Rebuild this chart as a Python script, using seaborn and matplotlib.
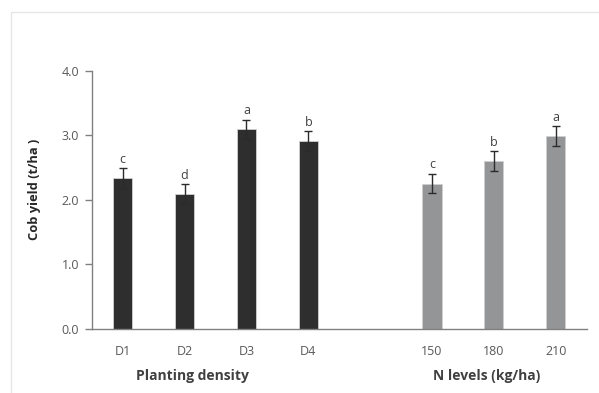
import matplotlib
matplotlib.use("Agg")
import matplotlib.pyplot as plt
import seaborn as sns
import pandas as pd
from matplotlib.lines import Line2D

# Cob yield by planting density and by nitrogen level
density_labels = ["D1", "D2", "D3", "D4"]
density_yield = [2.34, 2.09, 3.09, 2.91]
density_se = [0.15, 0.15, 0.15, 0.15]
density_letters = ["c", "d", "a", "b"]

nitrogen_labels = ["150", "180", "210"]
nitrogen_yield = [2.25, 2.60, 2.99]
nitrogen_se = [0.15, 0.15, 0.15]
nitrogen_letters = ["c", "b", "a"]

y_ticks = [0.0, 1.0, 2.0, 3.0, 4.0]

spacer = " "
order = density_labels + [spacer] + nitrogen_labels

df = pd.DataFrame({
    "treatment": density_labels + nitrogen_labels,
    "yield": density_yield + nitrogen_yield,
    "se": density_se + nitrogen_se,
    "letter": density_letters + nitrogen_letters,
    "factor": ["density"] * len(density_labels) + ["nitrogen"] * len(nitrogen_labels),
})

sns.set_style("white")
plt.rcParams["font.family"] = ["Open Sans", "DejaVu Sans"]

fig = plt.figure(figsize=(5.99, 3.93), dpi=100)
ax = fig.add_axes([0.1531, 0.1628, 0.8264, 0.6573])

sns.barplot(
    data=df, x="treatment", y="yield", hue="factor", order=order,
    palette={"density": "#2e2e2e", "nitrogen": "#939598"},
    dodge=False, width=0.31, errorbar=None, legend=False,
    edgecolor="#d0d0d0", linewidth=0.6, ax=ax,
)

pos = {c: i for i, c in enumerate(order)}
xs = [pos[t] for t in df["treatment"]]
ax.errorbar(xs, df["yield"], yerr=df["se"], fmt="none",
            ecolor="#2b2b2b", elinewidth=1.0, capsize=3.2, capthick=1.0)
for x, y, e, lab in zip(xs, df["yield"], df["se"], df["letter"]):
    ax.text(x, y + e + 0.04, lab, ha="center", va="bottom",
            fontsize=9, color="#404040")

ax.set_xlim(-0.5, 7.5)
ax.set_ylim(0, 4.0)
ax.set_yticks(y_ticks)
ax.set_yticklabels([f"{v:.1f}" for v in y_ticks])
ax.set_xlabel("")
ax.set_ylabel("Cob yield (t/ha )", fontsize=9.3, fontweight="bold",
              color="#262626")
ax.yaxis.set_label_coords(-0.102, 0.54)

for side in ["top", "right"]:
    ax.spines[side].set_visible(False)
for side in ["left", "bottom"]:
    ax.spines[side].set_color("#808080")
    ax.spines[side].set_linewidth(1.0)

ax.tick_params(axis="y", left=True, length=5, width=1.0, color="#808080",
               labelsize=9, labelcolor="#595959", pad=4)
ax.tick_params(axis="x", bottom=False, labelsize=9, labelcolor="#595959", pad=8)

# factor titles under each group
ax.text(1.13, -0.72, "Planting density", ha="center", va="center",
        fontsize=10, fontweight="bold", color="#404040")
ax.text(5.88, -0.72, "N levels (kg/ha)", ha="center", va="center",
        fontsize=10, fontweight="bold", color="#404040")

# light frame around the chart area
fig.add_artist(Line2D([11 / 599, 1.0], [1 - 12 / 393, 1 - 12 / 393],
                      transform=fig.transFigure, color="#e6e6e6", lw=1.0))
fig.add_artist(Line2D([11 / 599, 11 / 599], [0.0, 1 - 12 / 393],
                      transform=fig.transFigure, color="#e6e6e6", lw=1.0))

fig.savefig("out.png", dpi=100)
